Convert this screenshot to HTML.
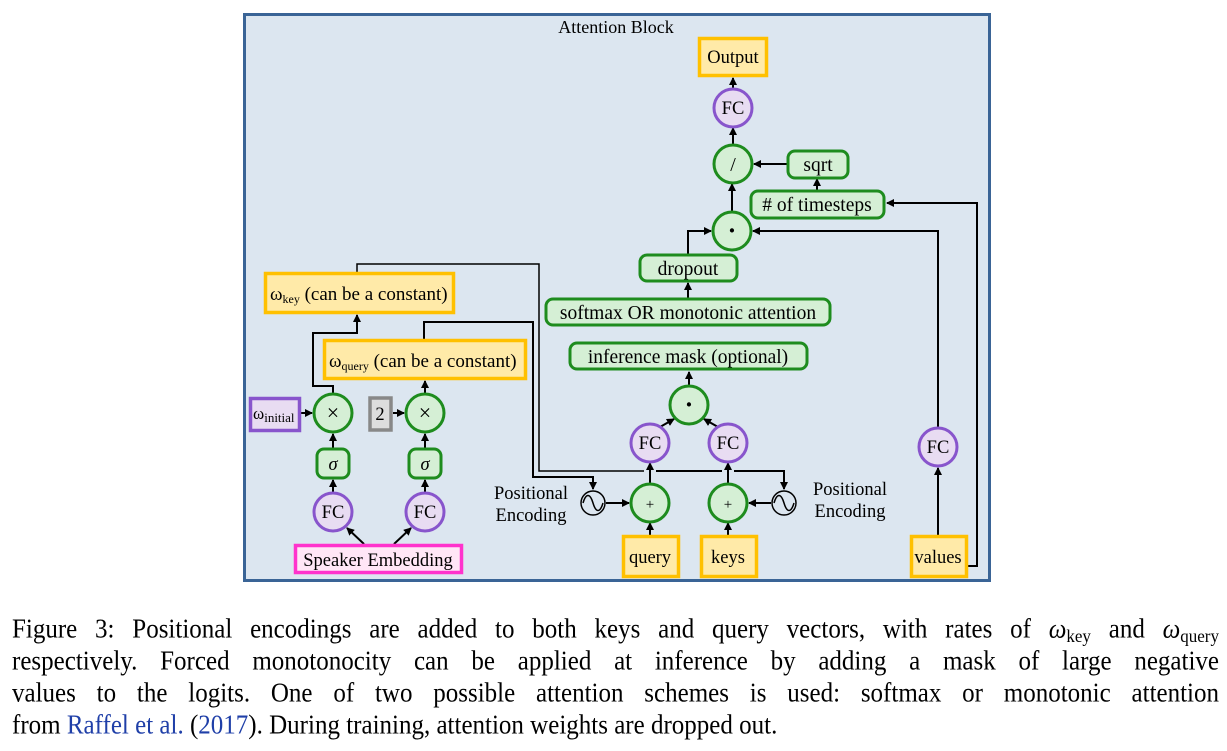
<!DOCTYPE html>
<html><head><meta charset="utf-8"><style>
body{margin:0;background:#fff;width:1227px;height:751px;overflow:hidden;font-family:"Liberation Serif","DejaVu Serif","Times New Roman",serif}
.cap{position:absolute;left:12px;width:1207px;font-size:25px;line-height:32px;color:#000}
.cap div{text-align:justify;text-align-last:justify;white-space:nowrap;transform:scaleY(1.08);transform-origin:left center}
.cap div.l{text-align-last:left}
sub{font-size:17px;vertical-align:-4px;line-height:0}
svg text{font-family:"Liberation Serif","DejaVu Serif","Times New Roman",serif}
</style></head><body>
<svg width="1227" height="600" style="position:absolute;left:0;top:0">
<defs><marker id="a" markerWidth="8" markerHeight="8" refX="7" refY="4" orient="auto" markerUnits="userSpaceOnUse"><path d="M0,0 L8,4 L0,8z" fill="#000"/></marker></defs>
<rect x="244.5" y="14.5" width="745" height="566" fill="#dce6f0" stroke="#3a6496" stroke-width="3"/>
<text x="616" y="33" font-size="18" text-anchor="middle">Attention Block</text>
<g fill="none" stroke="#000" stroke-width="2">
<line x1="733" y1="89" x2="733" y2="78" marker-end="url(#a)"/>
<line x1="733" y1="145" x2="733" y2="128" marker-end="url(#a)"/>
<line x1="732" y1="212" x2="732" y2="184" marker-end="url(#a)"/>
<line x1="787" y1="164" x2="754" y2="164" marker-end="url(#a)"/>
<line x1="817" y1="190" x2="817" y2="179" marker-end="url(#a)"/>
<polyline points="688,254 688,231 711,231" marker-end="url(#a)"/>
<line x1="688" y1="298" x2="688" y2="283" marker-end="url(#a)"/>
<line x1="689" y1="386" x2="689" y2="372" marker-end="url(#a)"/>
<line x1="660" y1="427" x2="674" y2="419" marker-end="url(#a)"/>
<line x1="718" y1="427" x2="704" y2="419" marker-end="url(#a)"/>
<line x1="650" y1="484" x2="650" y2="463" marker-end="url(#a)"/>
<line x1="728" y1="484" x2="728" y2="463" marker-end="url(#a)"/>
<line x1="650" y1="535" x2="650" y2="523" marker-end="url(#a)"/>
<line x1="728" y1="535" x2="728" y2="523" marker-end="url(#a)"/>
<line x1="606" y1="503" x2="629" y2="503" marker-end="url(#a)"/>
<line x1="771" y1="503" x2="749" y2="503" marker-end="url(#a)"/>
<line x1="938" y1="535" x2="938" y2="468" marker-end="url(#a)"/>
<polyline points="938,428 938,231 753,231" marker-end="url(#a)"/>
<polyline points="967,566 977,566 977,203 887,203" marker-end="url(#a)"/>
<polyline points="357,272 357,264 539,264 539,471 644,471" stroke-width="1.5"/>
<polyline points="656,471 722,471"/>
<polyline points="734,471 784,471 784,489" marker-end="url(#a)"/>
<polyline points="424,339 424,322 533,322 533,477 593,477 593,489" marker-end="url(#a)"/>
<polyline points="333,394 333,386 313,386 313,333 357,333 357,315" marker-end="url(#a)"/>
<line x1="425" y1="394" x2="425" y2="381" marker-end="url(#a)"/>
<line x1="300" y1="413" x2="312" y2="413" marker-end="url(#a)"/>
<line x1="393" y1="413" x2="404" y2="413" marker-end="url(#a)"/>
<line x1="333" y1="448" x2="333" y2="434" marker-end="url(#a)"/>
<line x1="425" y1="448" x2="425" y2="434" marker-end="url(#a)"/>
<line x1="333" y1="493" x2="333" y2="480" marker-end="url(#a)"/>
<line x1="425" y1="493" x2="425" y2="480" marker-end="url(#a)"/>
<line x1="364" y1="544" x2="347" y2="528" marker-end="url(#a)"/>
<line x1="394" y1="544" x2="411" y2="528" marker-end="url(#a)"/>
</g>
<g fill="#ffeaa8" stroke="#ffc000" stroke-width="3.5">
<rect x="699.5" y="38.5" width="67" height="37"/>
<rect x="265.5" y="273.5" width="188" height="39"/>
<rect x="324.5" y="340.5" width="201" height="38"/>
<rect x="623.5" y="536.5" width="55" height="40"/>
<rect x="701.5" y="536.5" width="55" height="40"/>
<rect x="911.5" y="536.5" width="55" height="40"/>
</g>
<rect x="250.5" y="398.5" width="49" height="32" fill="#e8dcf2" stroke="#8855cc" stroke-width="3.5"/>
<rect x="370" y="398" width="21" height="32" fill="#ddd" stroke="#888" stroke-width="3.5"/>
<rect x="295.5" y="545.5" width="166" height="27" fill="#ffe6f6" stroke="#ff33cc" stroke-width="3.5"/>
<g fill="#d5efd5" stroke="#1e8c1e" stroke-width="3">
<rect x="788" y="151" width="60" height="27" rx="7"/>
<rect x="751" y="191" width="133" height="27" rx="7"/>
<rect x="640" y="255" width="97" height="26" rx="7"/>
<rect x="546" y="299" width="284" height="26" rx="7"/>
<rect x="570" y="343" width="237" height="26" rx="7"/>
<rect x="317" y="449" width="32" height="29" rx="7"/>
<rect x="409" y="449" width="32" height="29" rx="7"/>
</g>
<g fill="#d5efd5" stroke="#1e8c1e" stroke-width="3">
<circle cx="733" cy="164" r="19"/><circle cx="732" cy="231" r="19"/><circle cx="689" cy="405" r="19"/>
<circle cx="650" cy="503" r="19"/><circle cx="728" cy="503" r="19"/>
<circle cx="333" cy="413" r="19"/><circle cx="425" cy="413" r="19"/>
</g>
<g fill="#e8dcf2" stroke="#8855cc" stroke-width="3">
<circle cx="733" cy="108" r="19"/><circle cx="650" cy="443" r="19"/><circle cx="728" cy="443" r="19"/>
<circle cx="938" cy="447" r="19"/><circle cx="333" cy="512" r="19"/><circle cx="425" cy="512" r="19"/>
</g>
<g fill="none" stroke="#000" stroke-width="1.5">
<circle cx="593" cy="503" r="12"/><path d="M583,503 C586,493 590,493 593,503 C596,513 600,513 603,503"/>
<circle cx="784" cy="503" r="12"/><path d="M774,503 C777,493 781,493 784,503 C787,513 791,513 794,503"/>
</g>
<g font-size="18.5" text-anchor="middle" fill="#000">
<text x="733" y="63">Output</text>
<text x="733" y="114">FC</text><text x="650" y="449">FC</text><text x="728" y="449">FC</text>
<text x="938" y="453">FC</text><text x="333" y="518">FC</text><text x="425" y="518">FC</text>
<text x="733" y="171" font-size="20">/</text>
<text x="732" y="239" font-size="26" font-weight="bold">·</text>
<text x="689" y="413" font-size="26" font-weight="bold">·</text>
<text x="650" y="509" font-size="15">+</text><text x="728" y="509" font-size="15">+</text>
<text x="333" y="420" font-size="22">×</text><text x="425" y="420" font-size="22">×</text>
<text x="333" y="470" font-style="italic">σ</text><text x="425" y="470" font-style="italic">σ</text>
<g font-size="19.5">
<text x="818" y="171">sqrt</text>
<text x="817" y="211"># of timesteps</text>
<text x="688" y="275">dropout</text>
<text x="688" y="319">softmax OR monotonic attention</text>
<text x="688" y="363">inference mask (optional)</text>
</g>
<text x="650" y="563">query</text><text x="728" y="563">keys</text><text x="938" y="563">values</text>
<text x="378" y="566">Speaker Embedding</text>
<text x="380" y="420">2</text>
<text x="531" y="499">Positional</text><text x="531" y="521">Encoding</text>
<text x="850" y="495">Positional</text><text x="850" y="517">Encoding</text>
</g>
<text x="270" y="300" font-size="19">ω<tspan font-size="12" dy="3">key</tspan><tspan dy="-3"> (can be a constant)</tspan></text>
<text x="329" y="367" font-size="19">ω<tspan font-size="12" dy="3">query</tspan><tspan dy="-3"> (can be a constant)</tspan></text>
<text x="253" y="419" font-size="17">ω<tspan font-size="13" dy="3">initial</tspan></text>
</svg>
<div class="cap" style="top:614px">
<div>Figure 3: Positional encodings are added to both keys and query vectors, with rates of <i>ω</i><sub>key</sub> and <i>ω</i><sub>query</sub></div>
<div>respectively. Forced monotonocity can be applied at inference by adding a mask of large negative</div>
<div>values to the logits. One of two possible attention schemes is used: softmax or monotonic attention</div>
<div class="l">from <span style="color:#1f3fa8">Raffel et al.</span> (<span style="color:#1f3fa8">2017</span>). During training, attention weights are dropped out.</div>
</div>
</body></html>
